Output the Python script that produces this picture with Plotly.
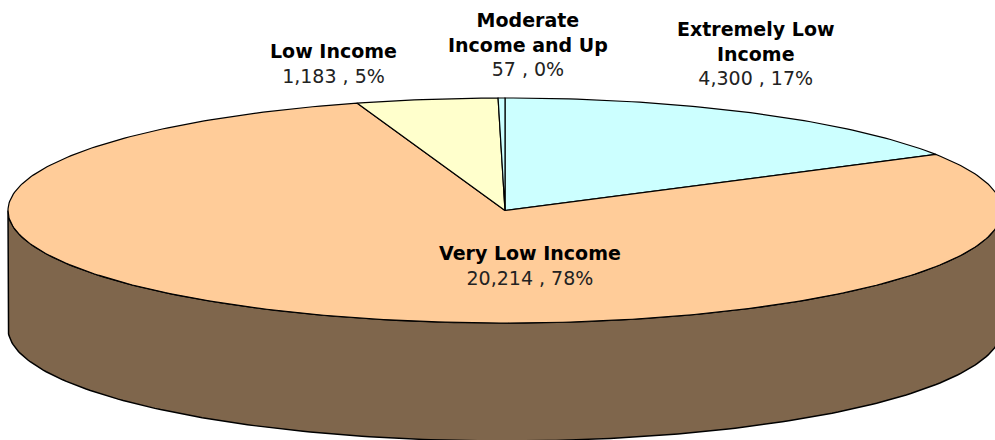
import numpy as np
import plotly.graph_objects as go

# ---------- DADOS ----------
categorias = ['Extremely Low<br>Income', 'Very Low Income', 'Low Income', 'Moderate<br>Income and Up']
valores = [4300, 20214, 1183, 57]
cores = ['#CCFFFF', '#FFCC99', '#FFFFCC', '#CCFFFF']

# posição dos rótulos (pixels) - layout, não dados
label_pos = [(755, 53), (530, 265), (333, 63), (528, 44)]

# ---------- GEOMETRIA DA PIZZA 3D ----------
W, H = 995, 440
cx, cy = 505, 210.5
rx, ry = 497, 112.5
depth = 118


def ponto(t, dy=0):
    return cx + rx * np.sin(t), cy - ry * np.cos(t) + dy


def escurecer(hex_cor, f=0.5):
    h = hex_cor.lstrip('#')
    r, g, b = (int(h[i:i + 2], 16) for i in (0, 2, 4))
    return 'rgb(%d,%d,%d)' % (r * f, g * f, b * f)


total = sum(valores)
fracs = np.array(valores) / total
limites = np.concatenate([[0], np.cumsum(fracs)]) * 2 * np.pi

fig = go.Figure()

# laterais (metade da frente: 90° a 270°)
for i in range(len(valores)):
    a, b = limites[i], limites[i + 1]
    s, e = max(a, np.pi / 2), min(b, 3 * np.pi / 2)
    if e <= s:
        continue
    t = np.linspace(s, e, 200)
    xt, yt = ponto(t)
    xb, yb = ponto(t[::-1], depth)
    fig.add_trace(go.Scatter(
        x=np.concatenate([xt, xb, xt[:1]]),
        y=np.concatenate([yt, yb, yt[:1]]),
        mode='lines', fill='toself',
        fillcolor=escurecer(cores[i]),
        line=dict(color='black', width=1.5),
        hoverinfo='skip', showlegend=False
    ))

# topo
for i in range(len(valores)):
    a, b = limites[i], limites[i + 1]
    t = np.linspace(a, b, max(3, int(400 * fracs[i])))
    xs, ys = ponto(t)
    fig.add_trace(go.Scatter(
        x=np.concatenate([[cx], xs, [cx]]),
        y=np.concatenate([[cy], ys, [cy]]),
        mode='lines', fill='toself',
        fillcolor=cores[i],
        line=dict(color='black', width=1.2),
        hoverinfo='skip', showlegend=False
    ))

# rótulos
for i, cat in enumerate(categorias):
    pct = round(valores[i] / total * 100)
    fig.add_annotation(
        x=label_pos[i][0], y=label_pos[i][1],
        text='<b>%s</b><br><span style="color:#222">%s , %d%%</span>' % (cat, f'{valores[i]:,}', pct),
        showarrow=False, align='center',
        font=dict(family='DejaVu Sans', size=19, color='black')
    )

fig.update_layout(
    width=W, height=H,
    margin=dict(l=0, r=0, t=0, b=0),
    paper_bgcolor='white', plot_bgcolor='white',
    xaxis=dict(range=[0, W], visible=False, fixedrange=True),
    yaxis=dict(range=[H, 0], visible=False, fixedrange=True),
)

fig.write_html("out.html", config={'displayModeBar': False},
               post_script="document.body.style.margin='0';document.body.style.overflow='hidden';")
